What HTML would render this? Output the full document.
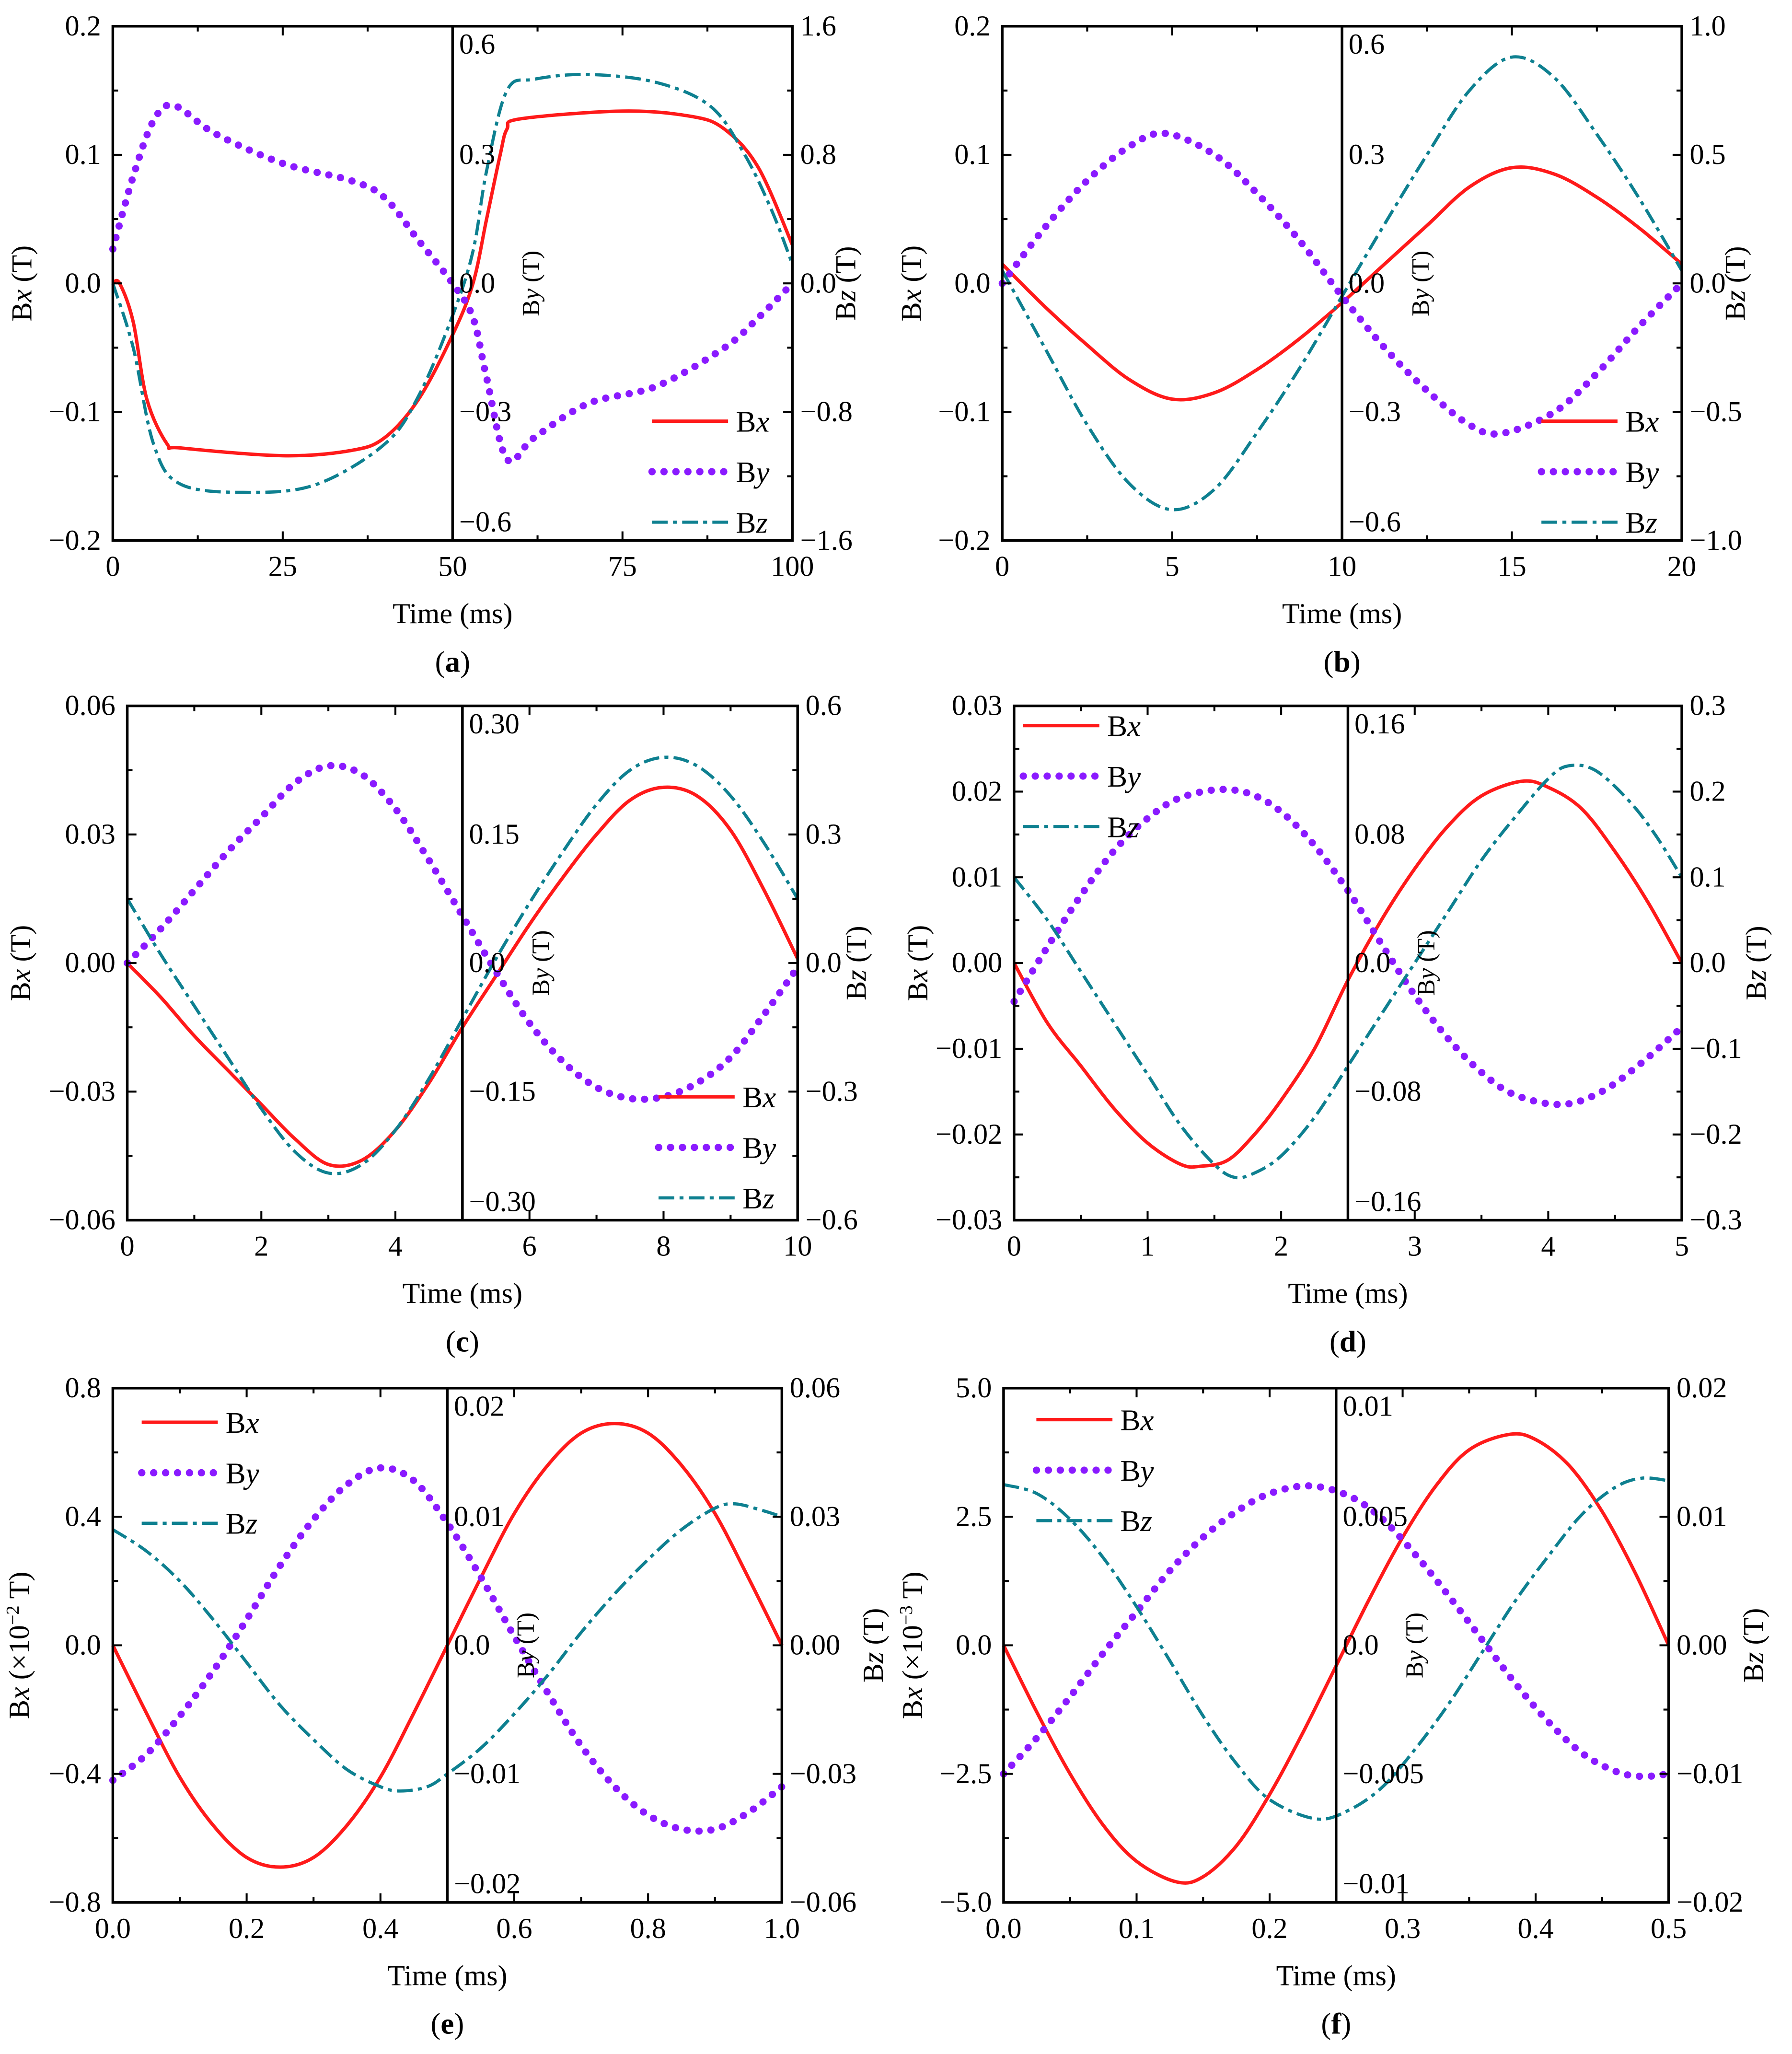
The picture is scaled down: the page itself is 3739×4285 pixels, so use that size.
<!DOCTYPE html>
<html><head><meta charset="utf-8"><style>
html,body{margin:0;padding:0;background:#fff}
svg{display:block}
text{font-family:"Liberation Serif",serif;fill:#000}
</style></head><body>
<svg id="chart" width="3739" height="4285" viewBox="0 0 1366 1565.5" xmlns="http://www.w3.org/2000/svg"></svg>
<script>
// ---------- data ----------
const aT  = [0,1,3,5,8,10,25,35,40,45,50,53,55,57,58,60,75,85,90,95,100];
const aBx = [0,0,-0.03,-0.09,-0.125,-0.128,-0.134,-0.13,-0.12,-0.09,-0.04,0.0,0.05,0.1,0.12,0.128,0.134,0.13,0.12,0.09,0.03];
const aTz = [0,3,6,10,20,30,40,45,50,53,55,58,62,70,80,88,93,97,100];
const aBz = [0,-0.4,-1.0,-1.25,-1.3,-1.25,-1.0,-0.7,-0.2,0.2,0.7,1.2,1.27,1.3,1.25,1.1,0.8,0.45,0.12];
const aTy = [0,3,6,9,15,25,35,40,45,50,53,55,58,62,70,80,90,95,100];
const aBy = [0.08,0.25,0.38,0.415,0.35,0.28,0.24,0.2,0.1,0.0,-0.08,-0.22,-0.41,-0.36,-0.28,-0.24,-0.15,-0.08,0.0];

const bT  = [0,1.25,2.5,3.75,5,6.25,7.5,8.75,10,11.25,12.5,13.75,15,16.25,17.5,18.75,20];
const bBx = [0.015,-0.018,-0.048,-0.075,-0.09,-0.085,-0.067,-0.043,-0.015,0.015,0.045,0.075,0.09,0.085,0.067,0.043,0.015];
const bBz = [0.05,-0.25,-0.55,-0.78,-0.88,-0.8,-0.58,-0.33,-0.05,0.23,0.5,0.75,0.88,0.8,0.58,0.33,0.05];
const bTy = [0,1.25,2.5,3.75,4.8,6.25,7.5,8.75,10,11.25,12.5,13.75,14.7,16.25,17.5,18.75,20];
const bBy = [0,0.13,0.24,0.32,0.35,0.3,0.21,0.1,-0.03,-0.15,-0.25,-0.33,-0.35,-0.3,-0.21,-0.1,0];

const cT  = [0,0.5,1,1.5,2,2.5,3,3.5,4,4.5,5,5.5,6,6.5,7,7.5,8,8.5,9,9.5,10];
const cBx = [0,-0.008,-0.017,-0.025,-0.033,-0.041,-0.047,-0.046,-0.039,-0.028,-0.015,-0.003,0.009,0.02,0.03,0.038,0.041,0.039,0.031,0.017,0.001];
const cBz = [0.15,0.02,-0.1,-0.22,-0.34,-0.44,-0.49,-0.47,-0.39,-0.27,-0.13,0.01,0.14,0.26,0.37,0.45,0.48,0.46,0.39,0.28,0.15];
const cBy = [0,0.04,0.085,0.13,0.17,0.21,0.23,0.22,0.18,0.12,0.055,-0.01,-0.07,-0.115,-0.145,-0.158,-0.156,-0.14,-0.11,-0.06,-0.005];

const dT  = [0,0.25,0.5,0.75,1,1.25,1.4,1.6,1.8,2,2.25,2.5,2.75,3,3.25,3.5,3.8,4,4.25,4.5,4.75,5];
const dBx = [0,-0.007,-0.012,-0.017,-0.021,-0.0235,-0.0237,-0.023,-0.02,-0.016,-0.01,-0.002,0.005,0.011,0.016,0.0195,0.0212,0.0205,0.018,0.013,0.007,0];
const dTz = [0,0.25,0.5,0.75,1,1.25,1.5,1.65,1.8,2,2.25,2.5,2.75,3,3.25,3.5,3.75,4,4.15,4.35,4.6,4.8,5];
const dBz = [0.1,0.05,-0.01,-0.07,-0.13,-0.19,-0.235,-0.25,-0.245,-0.225,-0.18,-0.12,-0.06,0.0,0.06,0.12,0.17,0.215,0.23,0.225,0.19,0.15,0.1];
const dTy = [0,0.25,0.5,0.75,1,1.25,1.6,1.9,2.2,2.5,2.75,3,3.25,3.5,3.75,4.1,4.4,4.7,5];
const dBy = [-0.024,0.01,0.042,0.07,0.09,0.103,0.108,0.1,0.078,0.045,0.012,-0.02,-0.047,-0.068,-0.082,-0.088,-0.08,-0.062,-0.04];

const eT  = [0,0.05,0.1,0.15,0.2,0.25,0.3,0.35,0.4,0.45,0.5,0.55,0.6,0.65,0.7,0.75,0.8,0.85,0.9,0.95,1];
const eBx = [0,-0.21,-0.41,-0.56,-0.66,-0.69,-0.66,-0.56,-0.41,-0.21,0,0.21,0.41,0.56,0.66,0.69,0.66,0.56,0.41,0.21,0];
const eTz = [0,0.05,0.1,0.15,0.2,0.25,0.3,0.35,0.4,0.43,0.47,0.5,0.55,0.6,0.65,0.7,0.75,0.8,0.85,0.9,0.93,0.97,1];
const eBz = [0.027,0.022,0.015,0.006,-0.004,-0.014,-0.022,-0.029,-0.033,-0.034,-0.033,-0.03,-0.024,-0.016,-0.007,0.003,0.012,0.02,0.027,0.032,0.033,0.0315,0.03];
const eTy = eT;
const eBy = [-0.0105,-0.0085,-0.0055,-0.002,0.002,0.0062,0.0098,0.0125,0.0138,0.0128,0.0095,0.0053,0.0007,-0.0037,-0.0078,-0.011,-0.0132,-0.0143,-0.0143,-0.013,-0.011];

const fT  = [0,0.025,0.05,0.075,0.1,0.13,0.15,0.175,0.2,0.225,0.25,0.275,0.3,0.325,0.35,0.38,0.4,0.425,0.45,0.475,0.5];
const fBx = [0,-1.3,-2.5,-3.5,-4.2,-4.6,-4.5,-3.9,-2.9,-1.7,-0.4,0.9,2.1,3.1,3.8,4.1,4.0,3.5,2.6,1.4,0];
const fTz = [0,0.025,0.05,0.075,0.1,0.125,0.15,0.175,0.2,0.235,0.26,0.285,0.31,0.335,0.36,0.385,0.41,0.435,0.46,0.48,0.5];
const fBz = [0.0125,0.0118,0.0098,0.0068,0.003,-0.0012,-0.0055,-0.0092,-0.012,-0.0135,-0.0128,-0.011,-0.008,-0.0045,-0.0005,0.0035,0.007,0.0102,0.0123,0.013,0.0128];
const fTy = [0,0.025,0.05,0.075,0.1,0.125,0.15,0.175,0.2,0.23,0.26,0.285,0.31,0.335,0.36,0.385,0.41,0.435,0.46,0.48,0.5];
const fBy = [-0.005,-0.0036,-0.002,-0.0003,0.0013,0.0029,0.0042,0.0052,0.0059,0.0062,0.0058,0.0049,0.0035,0.0019,0.0002,-0.0015,-0.003,-0.0042,-0.0049,-0.0051,-0.005];

const aXTicks=["0","25","50","75","100"], aLTicks=["−0.2","−0.1","0.0","0.1","0.2"], aRTicks=["−1.6","−0.8","0.0","0.8","1.6"], aYTicks=["−0.6","−0.3","0.0","0.3","0.6"];
const bXTicks=["0","5","10","15","20"], bLTicks=aLTicks, bRTicks=["−1.0","−0.5","0.0","0.5","1.0"], bYTicks=aYTicks;
const cXTicks=["0","2","4","6","8","10"], cLTicks=["−0.06","−0.03","0.00","0.03","0.06"], cRTicks=["−0.6","−0.3","0.0","0.3","0.6"], cYTicks=["−0.30","−0.15","0.0","0.15","0.30"];
const dXTicks=["0","1","2","3","4","5"], dLTicks=["−0.03","−0.02","−0.01","0.00","0.01","0.02","0.03"], dRTicks=["−0.3","−0.2","−0.1","0.0","0.1","0.2","0.3"], dYTicks=["−0.16","−0.08","0.0","0.08","0.16"];
const eXTicks=["0.0","0.2","0.4","0.6","0.8","1.0"], eLTicks=["−0.8","−0.4","0.0","0.4","0.8"], eRTicks=["−0.06","−0.03","0.00","0.03","0.06"], eYTicks=["−0.02","−0.01","0.0","0.01","0.02"];
const fXTicks=["0.0","0.1","0.2","0.3","0.4","0.5"], fLTicks=["−5.0","−2.5","0.0","2.5","5.0"], fRTicks=["−0.02","−0.01","0.00","0.01","0.02"], fYTicks=["−0.01","−0.005","0.0","0.005","0.01"];

// ---------- drawing ----------
const NS="http://www.w3.org/2000/svg", svg=document.getElementById('chart');
function mk(tag,attrs,parent){const e=document.createElementNS(NS,tag);for(const k in attrs)e.setAttribute(k,attrs[k]);(parent||svg).appendChild(e);return e;}
function smooth(pts){let d="M"+pts[0][0]+","+pts[0][1];for(let i=0;i<pts.length-1;i++){const p0=pts[i-1]||pts[i],p1=pts[i],p2=pts[i+1],p3=pts[i+2]||p2;d+=" C"+(p1[0]+(p2[0]-p0[0])/6)+","+(p1[1]+(p2[1]-p0[1])/6)+" "+(p2[0]-(p3[0]-p1[0])/6)+","+(p2[1]-(p3[1]-p1[1])/6)+" "+p2[0]+","+p2[1];}return d;}
const styles={
 Bx:{stroke:"#ff1a1a","stroke-width":2.6,fill:"none"},
 By:{stroke:"#8a1aff","stroke-width":5.5,fill:"none","stroke-dasharray":"0.1 9","stroke-linecap":"round"},
 Bz:{stroke:"#0e8090","stroke-width":2.4,fill:"none","stroke-dasharray":"12 4 3 4"}
};
const FS=22;
function panel(cfg){
 const g=mk('g',{});
 
 
 const {x0,x1,y0,y1,tmax,L,R,Y}=cfg, mid=(x0+x1)/2;
 const sx=t=>x0+(x1-x0)*t/tmax;
 const sy=(v,r)=>(y0+y1)/2-(y1-y0)/2*v/r;
 const series=[["Bx",cfg.tx,cfg.bx,L],["By",cfg.ty,cfg.by,Y],["Bz",cfg.tz,cfg.bz,R]];
 series.forEach(([n,ts,vs,r])=>{const p=mk('path',Object.assign({d:smooth(ts.map((t,i)=>[sx(t),sy(vs[i],r)]))},styles[n]),g);
  
  });
 const box=mk('rect',{x:x0,y:y0,width:x1-x0,height:y1-y0,fill:"none",stroke:"#000","stroke-width":2},g);
 
 
 mk('line',{x1:mid,x2:mid,y1:y0,y2:y1,stroke:"#000","stroke-width":2},g);
 const nx=cfg.xt.length-1;
 for(let i=0;i<=nx*2;i++){const x=x0+(x1-x0)*i/(nx*2),len=i%2?4:7;
  mk('line',{x1:x,x2:x,y1:y1,y2:y1-len,stroke:"#000","stroke-width":1.5},g);
  mk('line',{x1:x,x2:x,y1:y0,y2:y0+len,stroke:"#000","stroke-width":1.5},g);}
 cfg.xt.forEach((s,i)=>{const t=mk('text',{x:x0+(x1-x0)*i/nx,y:y1+27,"font-size":FS,"text-anchor":"middle"},g);t.textContent=s;
  });
 const nl=cfg.lt.length-1;
 for(let i=0;i<=nl*2;i++){const y=y1-(y1-y0)*i/(nl*2),len=i%2?4:7;
  mk('line',{x1:x0,x2:x0+len,y1:y,y2:y,stroke:"#000","stroke-width":1.5},g);
  mk('line',{x1:x1,x2:x1-len,y1:y,y2:y,stroke:"#000","stroke-width":1.5},g);}
 cfg.lt.forEach((s,i)=>{const t=mk('text',{x:x0-9,y:y1-(y1-y0)*i/nl+7,"font-size":FS,"text-anchor":"end"},g);t.textContent=s;
  });
 cfg.rt.forEach((s,i)=>{const t=mk('text',{x:x1+6,y:y1-(y1-y0)*i/nl+7,"font-size":FS,"text-anchor":"start"},g);t.textContent=s;
  });
 const ny=cfg.yt.length-1;
 cfg.yt.forEach((s,i)=>{let y=y1-(y1-y0)*i/ny+7; if(i==0)y-=14; if(i==ny)y+=14;
  const t=mk('text',{x:mid+5,y:y,"font-size":FS},g);t.textContent=s;
  });
 const yc=(y0+y1)/2;
 function vlab(x,html,name,fs){const t=mk('text',{x:x,y:yc,"font-size":fs||FS,"text-anchor":"middle",transform:"rotate(-90 "+x+" "+yc+")"},g);t.innerHTML=html;
  }
 vlab(x0-cfg.ll,cfg.lLabel||'B<tspan font-style="italic">x</tspan> (T)','left-axis-title');
 vlab(x1+cfg.rl,'B<tspan font-style="italic">z</tspan> (T)','right-axis-title');
 vlab(mid+66,'B<tspan font-style="italic">y</tspan> (T)','by-axis-title',19);
 const xl=mk('text',{x:mid,y:y1+63,"font-size":FS,"text-anchor":"middle"},g);xl.textContent="Time (ms)";
 
 const cap=mk('text',{x:mid,y:y1+100,"font-size":23,"text-anchor":"middle"},g);cap.innerHTML='(<tspan font-weight="bold">'+cfg.id+'</tspan>)';
 
 ["Bx","By","Bz"].forEach((n,i)=>{const ly=cfg.lgy+i*38.5;
  const lg=mk('g',{},g);
  mk('line',Object.assign({x1:cfg.lgx,x2:cfg.lgx+58,y1:ly,y2:ly},styles[n]),lg);
  const t=mk('text',{x:cfg.lgx+64,y:ly+8,"font-size":23},lg);t.innerHTML='B<tspan font-style="italic">'+n[1]+'</tspan>';});
}
panel({id:'a',x0:86,x1:604,y0:20,y1:412,tmax:100,L:0.2,R:1.6,Y:0.6,tx:aT,bx:aBx,tz:aTz,bz:aBz,ty:aTy,by:aBy,xt:aXTicks,lt:aLTicks,rt:aRTicks,yt:aYTicks,ll:62,rl:48,lgx:497,lgy:321});
panel({id:'b',x0:764,x1:1282,y0:20,y1:412,tmax:20,L:0.2,R:1.0,Y:0.6,tx:bT,bx:bBx,tz:bT,bz:bBz,ty:bTy,by:bBy,xt:bXTicks,lt:bLTicks,rt:bRTicks,yt:bYTicks,ll:62,rl:48,lgx:1175,lgy:321});
panel({id:'c',x0:97,x1:608,y0:538,y1:930,tmax:10,L:0.06,R:0.6,Y:0.30,tx:cT,bx:cBx,tz:cT,bz:cBz,ty:cT,by:cBy,xt:cXTicks,lt:cLTicks,rt:cRTicks,yt:cYTicks,ll:74,rl:52,lgx:502,lgy:836});
panel({id:'d',x0:773,x1:1282,y0:538,y1:930,tmax:5,L:0.03,R:0.3,Y:0.16,tx:dT,bx:dBx,tz:dTz,bz:dBz,ty:dTy,by:dBy,xt:dXTicks,lt:dLTicks,rt:dRTicks,yt:dYTicks,ll:66,rl:64,lgx:780,lgy:553});
panel({id:'e',x0:86,x1:596,y0:1058,y1:1450,tmax:1,L:0.8,R:0.06,Y:0.02,tx:eT,bx:eBx,tz:eTz,bz:eBz,ty:eTy,by:eBy,xt:eXTicks,lt:eLTicks,rt:eRTicks,yt:eYTicks,ll:64,rl:77,lgx:108,lgy:1084,lLabel:'B<tspan font-style="italic">x</tspan> (×10<tspan baseline-shift="super" font-size="14">−2</tspan> T)'});
panel({id:'f',x0:765,x1:1272,y0:1058,y1:1450,tmax:0.5,L:5,R:0.02,Y:0.01,tx:fT,bx:fBx,tz:fTz,bz:fBz,ty:fTy,by:fBy,xt:fXTicks,lt:fLTicks,rt:fRTicks,yt:fYTicks,ll:62,rl:72,lgx:790,lgy:1082,lLabel:'B<tspan font-style="italic">x</tspan> (×10<tspan baseline-shift="super" font-size="14">−3</tspan> T)'});
</script>
</body></html>
